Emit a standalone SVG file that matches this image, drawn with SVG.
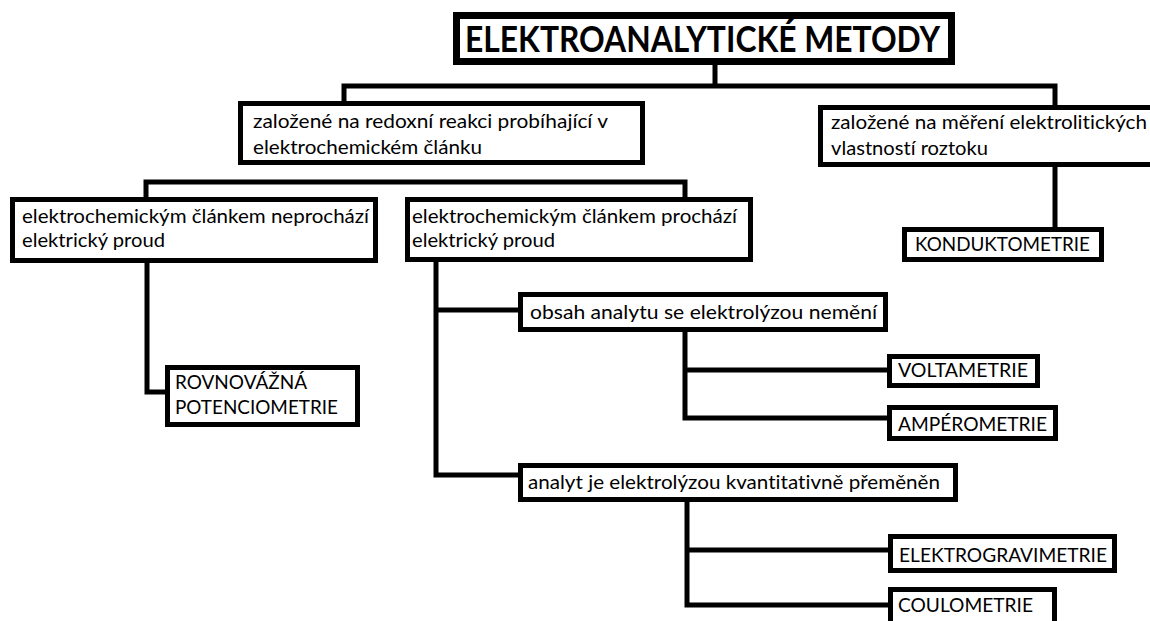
<svg xmlns="http://www.w3.org/2000/svg" width="1150" height="621" viewBox="0 0 1150 621">
<style>
.box{fill:#fff;stroke:#000;stroke-width:5}
.title{fill:#fff;stroke:#000;stroke-width:7}
.t{font-family:Lato,"Liberation Sans",sans-serif;font-size:19px;fill:#000;font-variant-ligatures:none}
.tt{font-family:Lato,"Liberation Sans",sans-serif;font-size:37px;font-weight:bold;fill:#000}
.c{fill:none;stroke:#000;stroke-width:5;stroke-linejoin:miter}
</style>
<rect width="1150" height="621" fill="#fff"/>
<g id="connectors">
<path class="c" d="M715 65 V86"/>
<path class="c" d="M344 103 V86 H1055 V107"/>
<path class="c" d="M146 199 V182 H685 V199"/>
<path class="c" d="M1055 165 V229"/>
<path class="c" d="M147 261 V392 H167"/>
<path class="c" d="M436 260 V475 H520"/>
<path class="c" d="M436 310 H520"/>
<path class="c" d="M685 330 V418 H889"/>
<path class="c" d="M685 370 H889"/>
<path class="c" d="M687 500 V605 H890"/>
<path class="c" d="M687 550 H890"/>
</g>
<g id="n-title">
<rect class="title" x="456.5" y="15.5" width="495" height="46"/>
<text class="tt" x="465" y="52" textLength="475" lengthAdjust="spacingAndGlyphs">ELEKTROANALYTICKÉ METODY</text>
</g>
<g id="n-redox">
<rect class="box" x="240.5" y="103.5" width="402" height="59"/>
<text class="t" x="253" y="128" textLength="355" lengthAdjust="spacingAndGlyphs">založené na redoxní reakci probíhající v</text>
<text class="t" x="253" y="154" textLength="229" lengthAdjust="spacingAndGlyphs">elektrochemickém článku</text>
</g>
<g id="n-mereni">
<rect class="box" x="820.5" y="107.5" width="350" height="57"/>
<text class="t" x="831" y="129" textLength="316" lengthAdjust="spacingAndGlyphs">založené na měření elektrolitických</text>
<text class="t" x="831" y="155" textLength="157" lengthAdjust="spacingAndGlyphs">vlastností roztoku</text>
</g>
<g id="n-neprochazi">
<rect class="box" x="12.5" y="199.5" width="363" height="61"/>
<text class="t" x="22" y="223" textLength="347" lengthAdjust="spacingAndGlyphs">elektrochemickým článkem neprochází</text>
<text class="t" x="22" y="247" textLength="143" lengthAdjust="spacingAndGlyphs">elektrický proud</text>
</g>
<g id="n-prochazi">
<rect class="box" x="407.5" y="199.5" width="343" height="60"/>
<text class="t" x="412" y="223" textLength="325" lengthAdjust="spacingAndGlyphs">elektrochemickým článkem prochází</text>
<text class="t" x="412" y="247" textLength="143" lengthAdjust="spacingAndGlyphs">elektrický proud</text>
</g>
<g id="n-konduktometrie">
<rect class="box" x="904.5" y="229.5" width="197" height="30"/>
<text class="t" x="915" y="251" textLength="175" lengthAdjust="spacingAndGlyphs">KONDUKTOMETRIE</text>
</g>
<g id="n-potenciometrie">
<rect class="box" x="167.5" y="367.5" width="190" height="57"/>
<text class="t" x="175" y="389" textLength="132" lengthAdjust="spacingAndGlyphs">ROVNOVÁŽNÁ</text>
<text class="t" x="175" y="414" textLength="163" lengthAdjust="spacingAndGlyphs">POTENCIOMETRIE</text>
</g>
<g id="n-obsah">
<rect class="box" x="520.5" y="294.5" width="365" height="35"/>
<text class="t" x="530" y="319" textLength="347" lengthAdjust="spacingAndGlyphs">obsah analytu se elektrolýzou nemění</text>
</g>
<g id="n-analyt">
<rect class="box" x="520.5" y="465.5" width="435" height="34"/>
<text class="t" x="528" y="489" textLength="412" lengthAdjust="spacingAndGlyphs">analyt je elektrolýzou kvantitativně přeměněn</text>
</g>
<g id="n-voltametrie">
<rect class="box" x="889.5" y="356.5" width="148" height="29"/>
<text class="t" x="898" y="377" textLength="130" lengthAdjust="spacingAndGlyphs">VOLTAMETRIE</text>
</g>
<g id="n-amperometrie">
<rect class="box" x="889.5" y="407.5" width="166" height="31"/>
<text class="t" x="898" y="431" textLength="149" lengthAdjust="spacingAndGlyphs">AMPÉROMETRIE</text>
</g>
<g id="n-elektrogravimetrie">
<rect class="box" x="890.5" y="536.5" width="224" height="34"/>
<text class="t" x="899" y="562" textLength="208" lengthAdjust="spacingAndGlyphs">ELEKTROGRAVIMETRIE</text>
</g>
<g id="n-coulometrie">
<rect class="box" x="890.5" y="589.5" width="164" height="40"/>
<text class="t" x="898" y="612" textLength="135" lengthAdjust="spacingAndGlyphs">COULOMETRIE</text>
</g>
</svg>
